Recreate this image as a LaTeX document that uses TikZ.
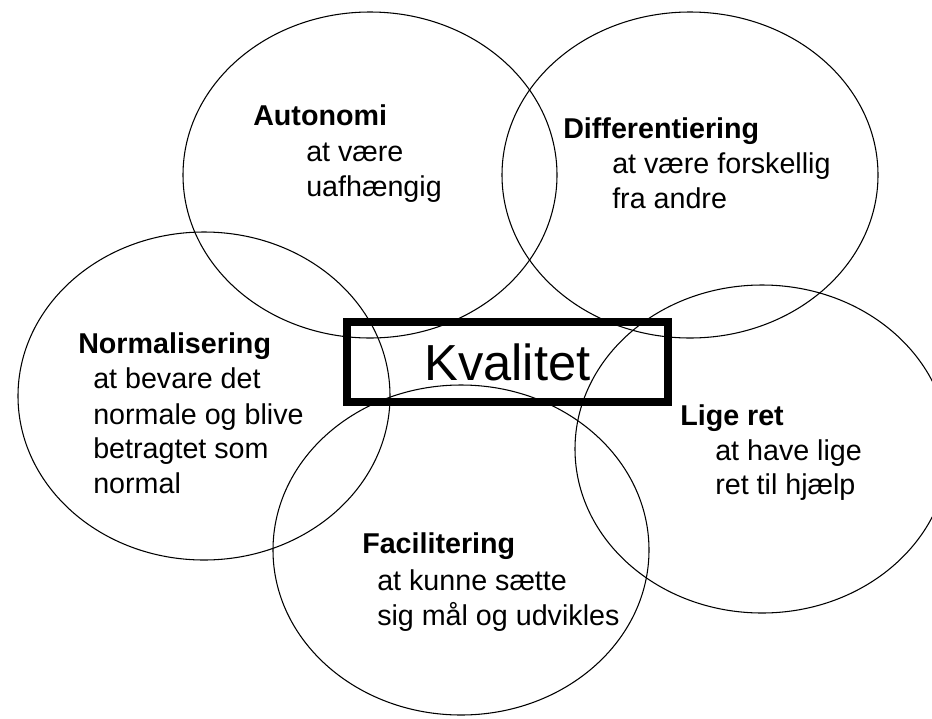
\documentclass[tikz,border=0pt]{standalone}
\usepackage{fontspec}
\setmainfont{Liberation Sans}
\usetikzlibrary{shapes.geometric}
\begin{document}
\begin{tikzpicture}[x=0.75pt,y=-0.75pt,
  ring/.style={draw=black, ellipse, inner sep=0pt, line width=0.8pt},
  head/.style={anchor=base west, inner sep=0pt, font=\fontsize{21.5}{26}\selectfont\bfseries},
  body/.style={anchor=base west, inner sep=0pt, font=\fontsize{21.5}{26}\selectfont},
  centerbox/.style={draw=black, line width=6pt, inner sep=0pt, font=\fontsize{38}{44}\selectfont}]
\useasboundingbox (0,0) rectangle (932,718);
\clip (0,0) rectangle (932,718);
% rings
\node[ring, minimum width=280.5pt, minimum height=244.5pt] (autonomi) at (370,175) {};
\node[ring, minimum width=282pt, minimum height=244.5pt] (differ) at (690,175) {};
\node[ring, minimum width=279pt, minimum height=246pt] (normal) at (204,396) {};
\node[ring, minimum width=280.5pt, minimum height=246pt] (lige) at (762,449) {};
\node[ring, minimum width=282pt, minimum height=247.5pt] (facil) at (461,550) {};
% centre box
\node[centerbox, minimum width=240.75pt, minimum height=60pt] (kval) at (507.5,362) {Kvalitet};
% Autonomi
\node[head] (a1) at (253,125) {Autonomi};
\node[body] (a2) at (306,161) {at være};
\node[body] (a3) at (306,196) {uafhængig};
% Differentiering
\node[head] (d1) at (563,138) {Differentiering};
\node[body] (d2) at (612,173) {at være forskellig};
\node[body] (d3) at (612,208) {fra andre};
% Normalisering
\node[head] (n1) at (78,353) {Normalisering};
\node[body] (n2) at (93,388) {at bevare det};
\node[body] (n3) at (93,424) {normale og blive};
\node[body] (n4) at (93,458) {betragtet som};
\node[body] (n5) at (93,493) {normal};
% Lige ret
\node[head] (l1) at (680,425) {Lige ret};
\node[body] (l2) at (715,460) {at have lige};
\node[body] (l3) at (715,494) {ret til hjælp};
% Facilitering
\node[head] (f1) at (362,553) {Facilitering};
\node[body] (f2) at (377,590) {at kunne sætte};
\node[body] (f3) at (377,625) {sig mål og udvikles};
\end{tikzpicture}
\end{document}
